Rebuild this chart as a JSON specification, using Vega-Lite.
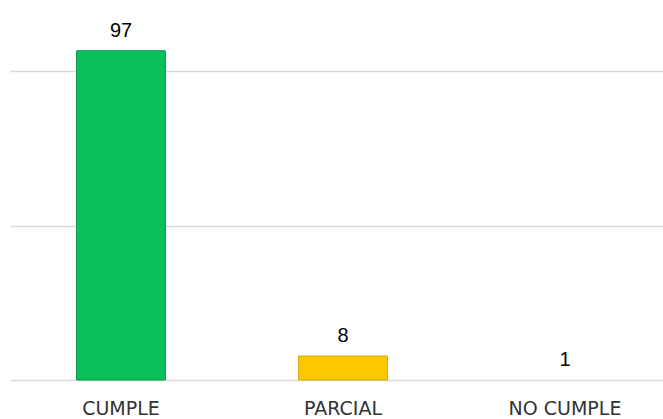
{
  "$schema": "https://vega.github.io/schema/vega-lite/v6.json",
  "autosize": {"type": "none"},
  "width": 666,
  "height": 343,
  "padding": {"left": 10, "top": 37, "right": 0, "bottom": 39},
  "background": "white",
  "config": {"view": {"stroke": null}},
  "data": {"values": [
    {"cat": "CUMPLE", "value": 97},
    {"cat": "PARCIAL", "value": 8},
    {"cat": "NO CUMPLE", "value": 1}
  ]},
  "encoding": {
    "x": {
      "field": "cat", "type": "nominal", "sort": null,
      "scale": {"paddingInner": 0.6, "paddingOuter": 0.3},
      "axis": {"title": null, "labelAngle": 0, "domain": false, "ticks": false, "labelFont": "DejaVu Sans", "labelFontSize": 19, "labelColor": "#333333", "labelPadding": 19}
    }
  },
  "layer": [
    {
      "mark": {"type": "bar", "strokeWidth": 1},
      "encoding": {
        "y": {
          "field": "value", "type": "quantitative",
          "scale": {"domain": [1, 101], "zero": false, "nice": false},
          "axis": {"title": null, "values": [1, 46, 91], "labels": false, "ticks": false, "domain": false, "grid": true, "gridColor": "#d9d9d9", "gridWidth": 1.5}
        },
        "y2": {"datum": 1},
        "color": {
          "field": "cat", "type": "nominal", "sort": null, "legend": null,
          "scale": {"domain": ["CUMPLE", "PARCIAL", "NO CUMPLE"], "range": ["#0bbf5a", "#fcc800", "transparent"]}
        },
        "stroke": {
          "field": "cat", "type": "nominal", "sort": null, "legend": null,
          "scale": {"domain": ["CUMPLE", "PARCIAL", "NO CUMPLE"], "range": ["#079a46", "#d9a800", "transparent"]}
        }
      }
    },
    {
      "mark": {"type": "text", "baseline": "bottom", "dy": -10, "font": "Liberation Sans", "fontSize": 20, "color": "#000000"},
      "encoding": {
        "y": {"field": "value", "type": "quantitative"},
        "text": {"field": "value", "type": "quantitative"}
      }
    }
  ]
}
